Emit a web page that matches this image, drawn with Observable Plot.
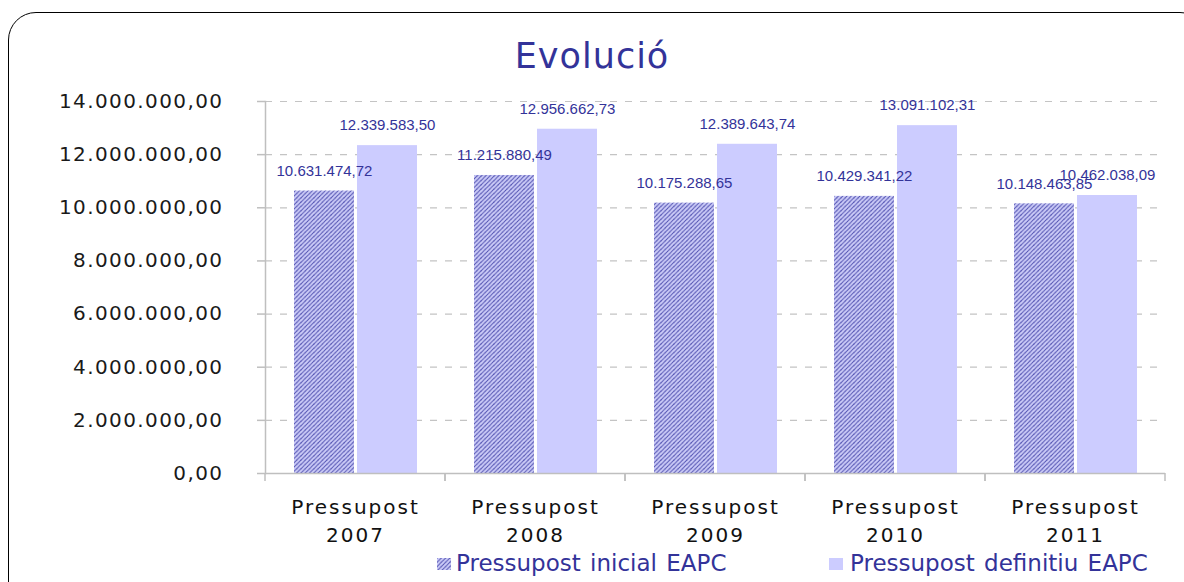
<!DOCTYPE html>
<html>
<head>
<meta charset="utf-8">
<script src="https://cdn.jsdelivr.net/npm/d3@7"></script>
<script src="https://cdn.jsdelivr.net/npm/@observablehq/plot@0.6"></script>
<style>
  html, body { margin: 0; padding: 0; background: #fff; }
  body { width: 1184px; height: 582px; overflow: hidden; position: relative; font-family: "DejaVu Sans", sans-serif; }
  #frame { position: absolute; left: 8px; top: 12px; width: 1200px; height: 640px; border: 1.6px solid #000; border-radius: 28px; box-sizing: border-box; }
  #chart { position: absolute; left: 0; top: 0; }
  #title { position: absolute; left: 0; top: 38.5px; width: 1184px; text-align: center; font-size: 35px; line-height: 35px; letter-spacing: 1px; color: #333399; }
  .leg { position: absolute; top: 552px; font-size: 23px; line-height: 23px; color: #333399; word-spacing: 2px; white-space: nowrap; }
  .sw { position: absolute; width: 14px; height: 12px; top: 6px; }
  g[aria-label="y-axis tick label"] text { letter-spacing: 1.4px; }
  g[aria-label="fx-axis tick label"] text { letter-spacing: 2px; }
  g[aria-label="value labels"] text { letter-spacing: -0.5px; }
</style>
</head>
<body>
<svg width="0" height="0" style="position:absolute">
  <defs>
    <pattern id="hatch" patternUnits="userSpaceOnUse" width="4.3" height="4.3">
      <rect width="4.3" height="4.3" fill="#ccccf8"></rect>
      <path d="M-1,1.15 L1.15,-1 M0,4.3 L4.3,0 M3.15,5.3 L5.3,3.15" stroke="#5050b0" stroke-width="1"></path>
    </pattern>
  </defs>
</svg>
<div id="frame"></div>
<div id="chart"></div>
<div id="title">Evolució</div>
<div class="leg" id="leg1" style="left:456px"><svg class="sw" style="left:-19px" width="14" height="12"><rect width="14" height="12" fill="url(#hatch)"></rect></svg></div>
<div class="leg" id="leg2" style="left:850px"><svg class="sw" style="left:-21px" width="14" height="12"><rect width="14" height="12" fill="#ccccff"></rect></svg></div>
<script>
const categories = ["Pressupost 2007", "Pressupost 2008", "Pressupost 2009", "Pressupost 2010", "Pressupost 2011"];
const seriesNames = ["Pressupost inicial EAPC", "Pressupost definitiu EAPC"];
const inicial = [10631474.72, 11215880.49, 10175288.65, 10429341.22, 10148463.85];
const definitiu = [12339583.50, 12956662.73, 12389643.74, 13091102.31, 10462038.09];
const yTicks = [0, 2000000, 4000000, 6000000, 8000000, 10000000, 12000000, 14000000];

const locale = d3.formatLocale({decimal: ",", thousands: ".", grouping: [3], currency: ["", ""]});
const fmt = locale.format(",.2f");

const rows = [];
categories.forEach((c, i) => {
  rows.push({cat: c, series: seriesNames[0], value: inicial[i]});
  rows.push({cat: c, series: seriesNames[1], value: definitiu[i]});
});

document.getElementById("leg1").appendChild(document.createTextNode(seriesNames[0]));
document.getElementById("leg2").appendChild(document.createTextNode(seriesNames[1]));

const boundaryTicks = (index, {y}, values, dims) => {
  const g = d3.create("svg:g").attr("aria-label", "category boundary ticks");
  const y0 = y(0);
  const xs = [dims.marginLeft, dims.width - dims.marginRight];
  for (const x of xs) {
    g.append("line").attr("x1", x).attr("x2", x).attr("y1", y0).attr("y2", y0 + 8)
      .attr("stroke", "#bfbfbf").attr("stroke-width", 1.5);
  }
  return g.node();
};

const chart = Plot.plot({
  width: 1184,
  height: 582,
  marginLeft: 265,
  marginRight: 19,
  marginTop: 101,
  marginBottom: 109,
  style: {fontFamily: "DejaVu Sans", background: "transparent", overflow: "visible"},
  fx: {domain: categories, padding: 0, label: null},
  x: {domain: seriesNames, paddingInner: 0.048, paddingOuter: 0.452, axis: null},
  y: {domain: [0, 14000000], label: null},
  marks: [
    Plot.gridY(yTicks, {stroke: "#c4c4c4", strokeOpacity: 1, strokeWidth: 1.2, strokeDasharray: "7,8"}),
    Plot.barY(rows, {
      fx: "cat", x: "series", y: "value",
      fill: d => d.series === seriesNames[0] ? "url(#hatch)" : "#ccccff"
    }),
    Plot.text(rows, {
      fx: "cat", x: "series", y: "value",
      text: d => fmt(d.value), dy: -20, lineAnchor: "middle",
      fill: "#333399", fontSize: 15, fontFamily: "Liberation Sans",
      ariaLabel: "value labels"
    }),
    Plot.frame({anchor: "left", facetAnchor: "left", stroke: "#bfbfbf", strokeWidth: 1.5}),
    Plot.ruleY([0], {stroke: "#bfbfbf", strokeWidth: 1.5}),
    boundaryTicks,
    Plot.axisY({
      ticks: yTicks, tickFormat: fmt, tickSize: 8, tickPadding: 34,
      stroke: "#bfbfbf", strokeWidth: 1.5, fill: "#1a1a1a", fontSize: 20, label: null
    }),
    Plot.axisFx({
      anchor: "bottom", tickSize: 0, tickPadding: 21, fontSize: 20, lineHeight: 1.38, fill: "#111",
      tickFormat: d => d.replace(" ", "\n"), label: null
    })
  ]
});
document.getElementById("chart").appendChild(chart);
</script>
</body>
</html>
